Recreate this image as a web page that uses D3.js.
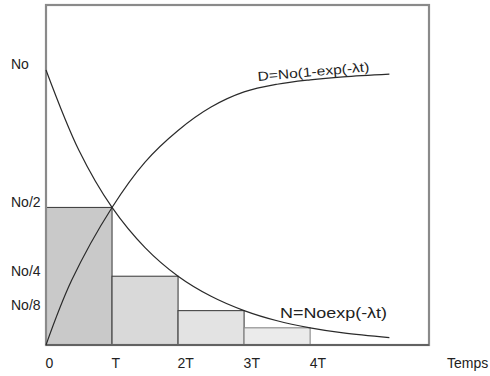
<!DOCTYPE html>
<html><head><meta charset="utf-8">
<script src="https://cdn.jsdelivr.net/npm/d3@7"></script>
<style>body{margin:0;background:#fff}svg{display:block}text{font-family:"Liberation Sans",Arial,sans-serif;fill:#222}</style>
</head><body><svg id="c" width="490" height="376"></svg>
<script>
// data (time in units of T, amounts in units of N0)
const xTickValues = [0, 1, 2, 3, 4];
const xTickLabels = ["0", "T", "2T", "3T", "4T"];
const yTickValues = [1, 0.5, 0.25, 0.125];
const yTickLabels = ["No", "No/2", "No/4", "No/8"];
const barStarts = [0, 1, 2, 3];
const barEnds = [1, 2, 3, 4];
const barValues = [0.5, 0.25, 0.125, 0.0625];
const barFills = ["#c9c9c9", "#d9d9d9", "#e3e3e3", "#ebebeb"];
const nT = [0, 0.5, 1, 1.5, 2, 2.5, 3, 3.5, 4, 4.5, 5.2];
const nV = [1, 0.707, 0.5, 0.354, 0.25, 0.177, 0.125, 0.088, 0.0625, 0.044, 0.027];
const dT = [0, 0.39, 1, 1.5, 2, 2.5, 3, 3.5, 4, 4.5, 5.2];
const dV = [0, 0.236, 0.5, 0.665, 0.78, 0.865, 0.92, 0.948, 0.964, 0.975, 0.985];

const svg = d3.select("#c");
const x = d3.scaleLinear().domain([0, 5.8]).range([46, 429]);
const y = d3.scaleLinear().domain([0, 1.236]).range([345, 5]);

// bars
svg.selectAll("rect.bar").data(barValues).join("rect")
  .attr("x", (d,i) => x(barStarts[i])).attr("width", (d,i) => x(barEnds[i]) - x(barStarts[i]))
  .attr("y", d => y(d)).attr("height", d => y(0) - y(d))
  .attr("fill", (d,i) => barFills[i])
  .attr("stroke", (d,i) => i === 3 ? "#888" : "#444").attr("stroke-width", 1.1);

// frame
svg.append("rect").attr("x", x(0)).attr("y", y(1.236)).attr("width", x(5.8) - x(0)).attr("height", y(0) - y(1.236))
  .attr("fill", "none").attr("stroke", "#8a8a8a").attr("stroke-width", 2.2);
svg.append("line").attr("x1", x(0)).attr("x2", x(5.8)).attr("y1", y(0)).attr("y2", y(0))
  .attr("stroke", "#555").attr("stroke-width", 1.5);

// curves
const line = d3.line().curve(d3.curveCatmullRom.alpha(0.5));
svg.append("path").attr("d", line(nT.map((t,i) => [x(t), y(nV[i])])))
  .attr("fill", "none").attr("stroke", "#2a2a2a").attr("stroke-width", 1.2);
svg.append("path").attr("d", line(dT.map((t,i) => [x(t), y(dV[i])])))
  .attr("fill", "none").attr("stroke", "#2a2a2a").attr("stroke-width", 1.2);

// axes
const xAxis = d3.axisBottom(x).tickValues(xTickValues).tickFormat((d,i) => xTickLabels[i]).tickSize(0).tickPadding(0);
const gx = svg.append("g").attr("transform", `translate(0,${y(0)})`).call(xAxis);
gx.select(".domain").remove();
gx.selectAll("text").attr("text-anchor", "start").attr("dx", -1).attr("dy", 0).attr("y", 23)
  .style("font-size", "14px");

const yAxis = d3.axisLeft(y).tickValues(yTickValues).tickFormat((d,i) => yTickLabels[i]).tickSize(0).tickPadding(0);
const gy = svg.append("g").call(yAxis);
gy.select(".domain").remove();
gy.selectAll("text").attr("text-anchor", "start").attr("x", 11).attr("dy", -1)
  .style("font-size", "14px");

svg.append("text").attr("x", 447).attr("y", 368).style("font-size", "14px").text("Temps");

// curve labels
svg.append("text").attr("x", 280).attr("y", 318).style("font-size", "15px")
  .attr("textLength", 107).attr("lengthAdjust", "spacingAndGlyphs").text("N=Noexp(-λt)");
svg.append("text").attr("transform", "translate(258,81) rotate(-5)").style("font-size", "13px")
  .attr("textLength", 112).attr("lengthAdjust", "spacingAndGlyphs").text("D=No(1-exp(-λt)");
</script></body></html>
